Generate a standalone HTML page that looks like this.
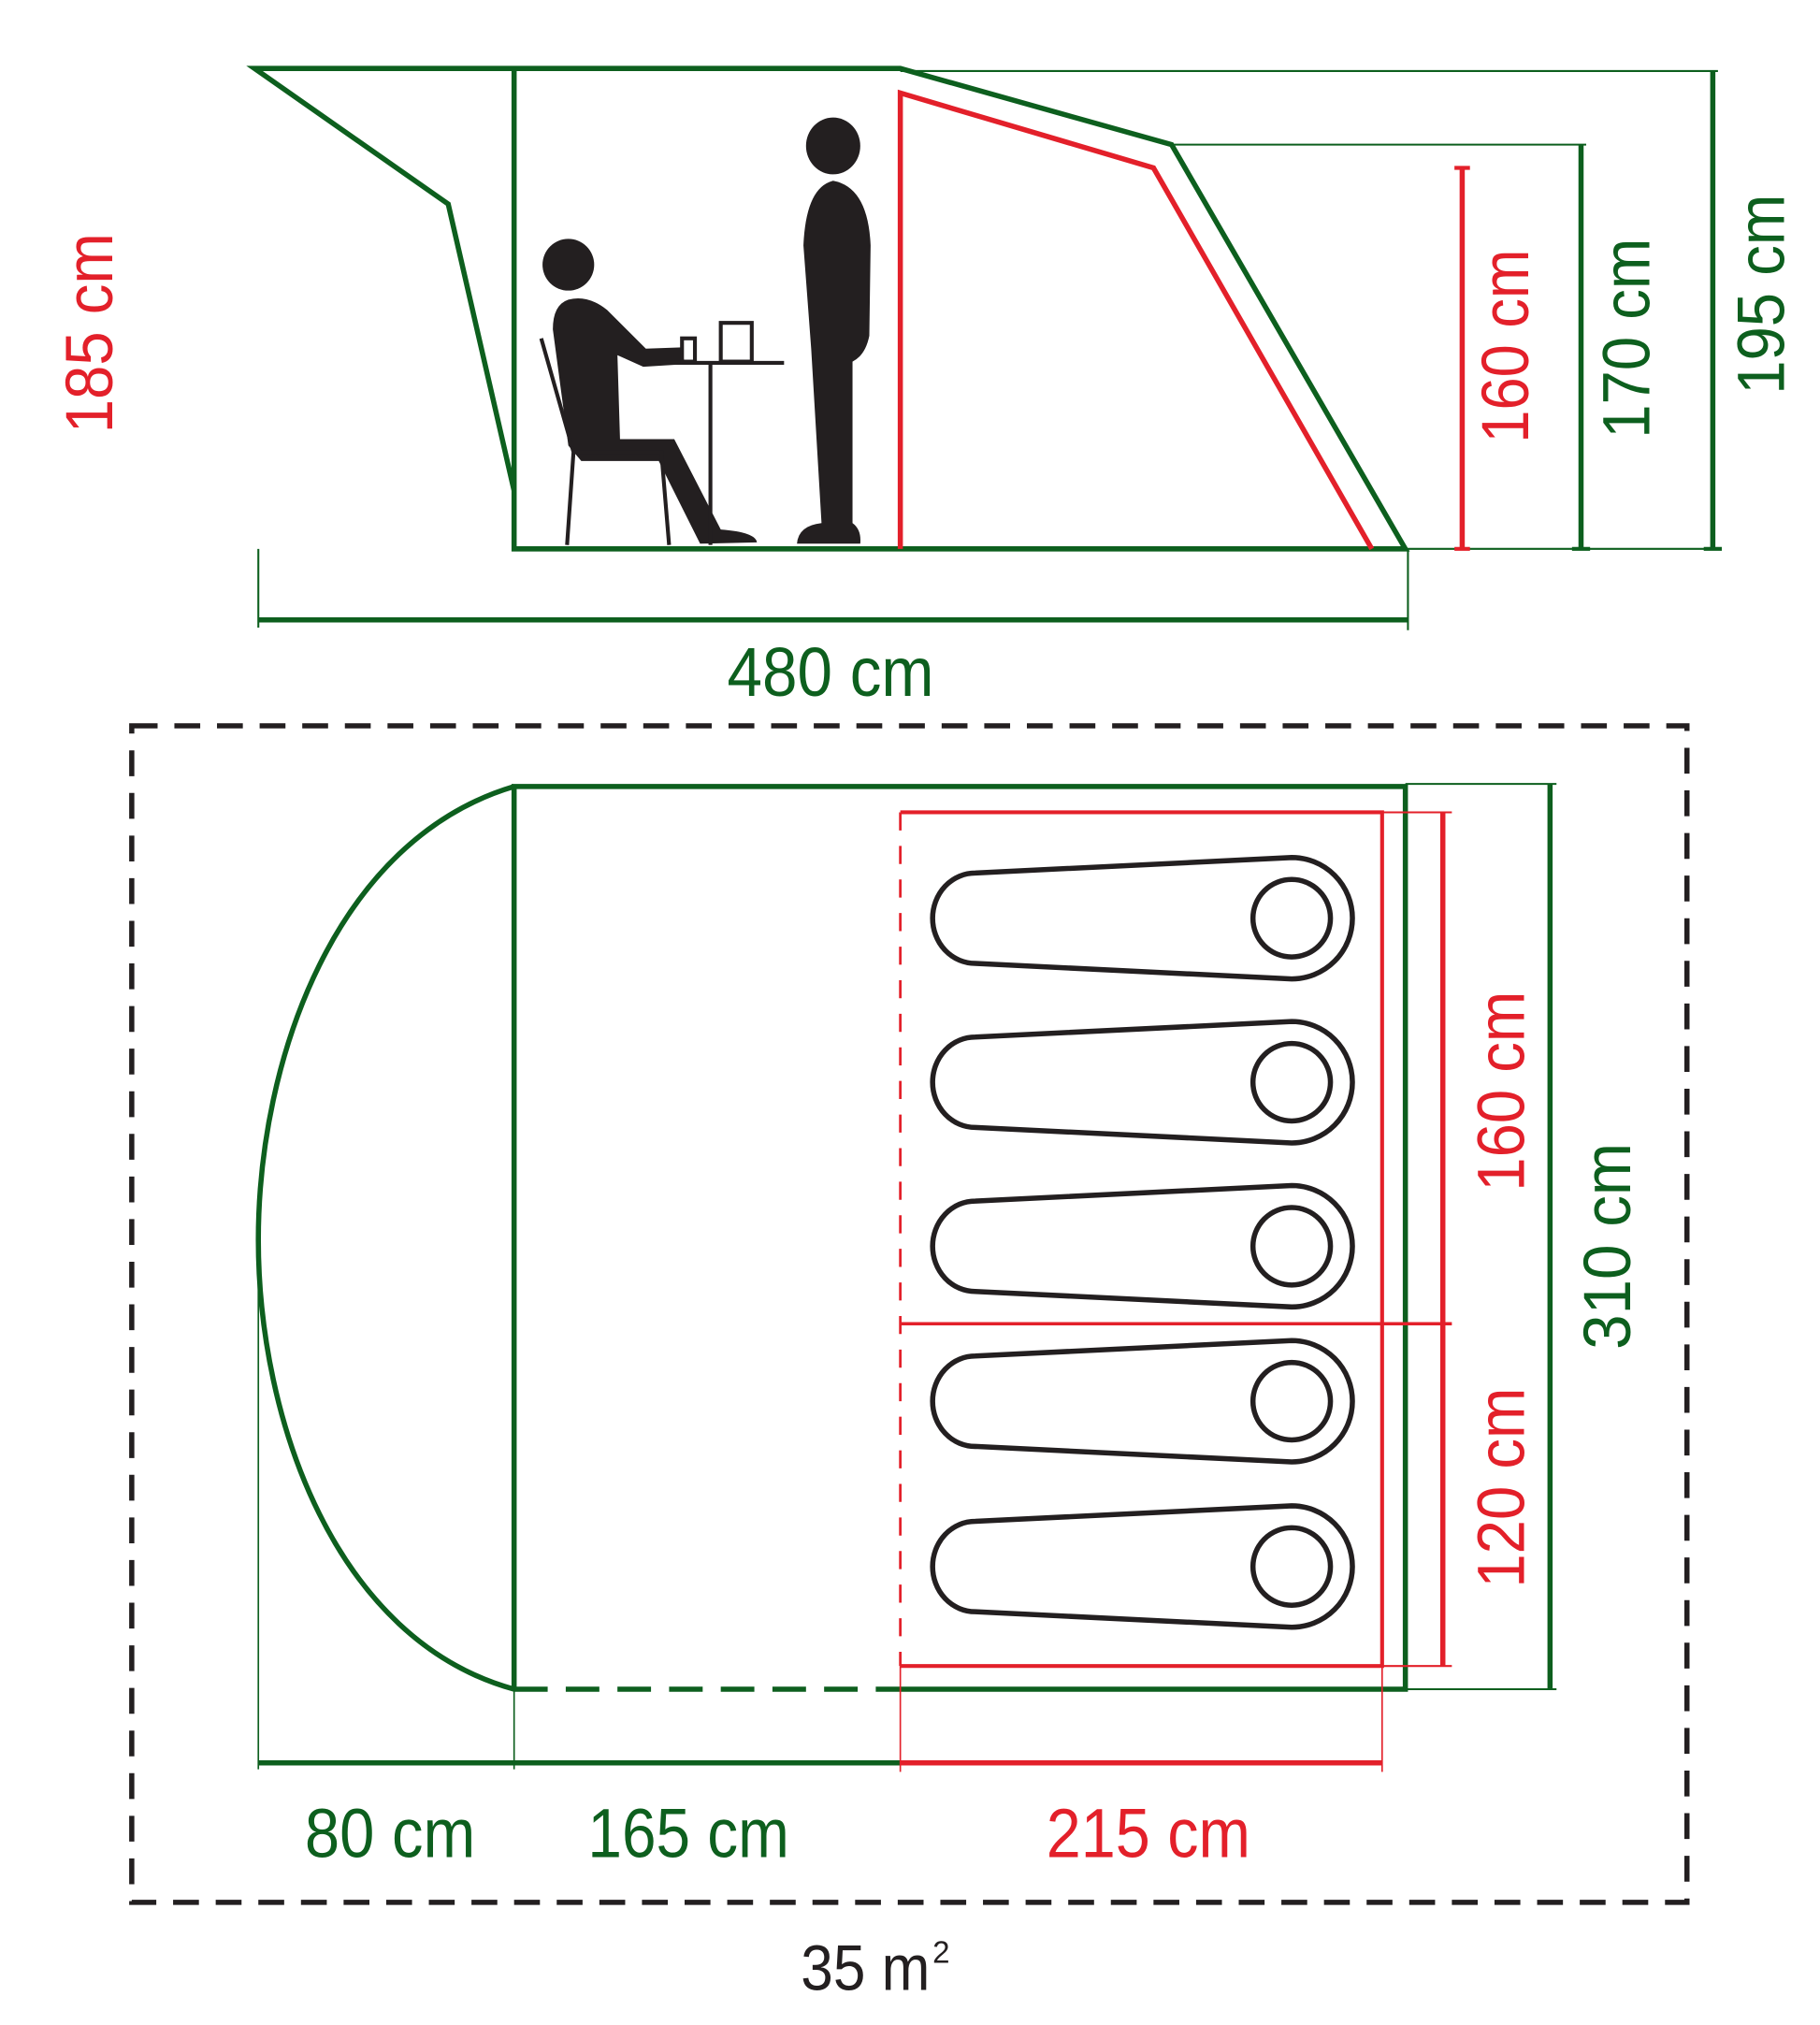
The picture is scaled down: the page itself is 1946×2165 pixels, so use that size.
<!DOCTYPE html>
<html><head><meta charset="utf-8"><style>
html,body{margin:0;padding:0;background:#fff;}
svg{display:block;}
text{font-family:"Liberation Sans",sans-serif;}
</style></head><body>
<svg width="1946" height="2165" viewBox="0 0 1409 1568" preserveAspectRatio="none" xmlns="http://www.w3.org/2000/svg">
<rect width="1409" height="1568" fill="#fff"/>
<g fill="none" stroke-linejoin="miter">
<polyline points="398,380 347,158 197,53 697,53 907,112 1088,425 398,425 398,53" stroke="#0d5f1e" stroke-width="4"/>
<polyline points="697,425 697,72 893,130 1062,425" stroke="#e3202a" stroke-width="4"/>
<line x1="697" y1="55" x2="1330" y2="55" stroke="#0d5f1e" stroke-width="1.5"/>
<line x1="1326" y1="55" x2="1326" y2="425" stroke="#0d5f1e" stroke-width="4"/>
<line x1="907" y1="112" x2="1228" y2="112" stroke="#0d5f1e" stroke-width="1.5"/>
<line x1="1224" y1="112" x2="1224" y2="425" stroke="#0d5f1e" stroke-width="4"/>
<line x1="1088" y1="425" x2="1330" y2="425" stroke="#0d5f1e" stroke-width="1.5"/>
<line x1="1132" y1="130" x2="1132" y2="425" stroke="#e3202a" stroke-width="4"/>
<line x1="1126" y1="130" x2="1138" y2="130" stroke="#e3202a" stroke-width="3"/>
<line x1="1126" y1="425" x2="1138" y2="425" stroke="#e3202a" stroke-width="3"/>
<line x1="1319" y1="425" x2="1333" y2="425" stroke="#0d5f1e" stroke-width="3"/>
<line x1="1217" y1="425" x2="1231" y2="425" stroke="#0d5f1e" stroke-width="3"/>
<line x1="200" y1="480" x2="1090" y2="480" stroke="#0d5f1e" stroke-width="4"/>
<line x1="200" y1="425" x2="200" y2="486" stroke="#0d5f1e" stroke-width="1.5"/>
<line x1="1090" y1="425" x2="1090" y2="488" stroke="#0d5f1e" stroke-width="1.5"/>
</g>
<g fill="#231f20" stroke="#231f20">
<circle cx="440" cy="205" r="20" stroke="none"/>
<path d="M440,232 Q455,228 470,240 L500,270 L528,269 L530,282 L498,284 L478,275 L480,340 L522,340 L558,410 Q585,412 586,420 L542,421 L510,357 L450,357 L440,345 L428,255 Q428,236 440,232 Z" stroke="none"/>
<ellipse cx="645" cy="113" rx="21" ry="22" stroke="none"/>
<path d="M645,140 Q672,145 674,190 L673,260 Q670,275 660,280 L660,405 Q667,410 666,421 L617,421 Q618,407 636,405 L628,270 L622,190 Q624,145 645,140 Z" stroke="none"/>
<g fill="none" stroke-width="3">
<polyline points="419,262 444,350 439,422"/>
<polyline points="444,350 512,350 518,422"/>
<line x1="500" y1="281" x2="607" y2="281"/>
<line x1="550" y1="281" x2="550" y2="422"/>
<rect x="528" y="262" width="10" height="18"/>
<rect x="558" y="250" width="24" height="30"/>
</g>
</g>
<g fill="none">
<rect x="102" y="562" width="1204" height="911" stroke="#231f20" stroke-width="4" stroke-dasharray="20,13"/>
<path d="M398,609 C260,650 200,820 200,960 C200,1100 260,1270 398,1308" stroke="#0d5f1e" stroke-width="4"/>
<polyline points="398,1308 398,609 1088,609 1088,1308 697,1308" stroke="#0d5f1e" stroke-width="4"/>
<line x1="398" y1="1308" x2="697" y2="1308" stroke="#0d5f1e" stroke-width="4" stroke-dasharray="26,14"/>
<polyline points="697,629 1070,629 1070,1290 697,1290" stroke="#e3202a" stroke-width="3"/>
<line x1="697" y1="629" x2="697" y2="1290" stroke="#e3202a" stroke-width="2" stroke-dasharray="14,12"/>
<line x1="697" y1="1025" x2="1124" y2="1025" stroke="#e3202a" stroke-width="2.5"/>
<line x1="1070" y1="629" x2="1124" y2="629" stroke="#e3202a" stroke-width="1.5"/>
<line x1="1070" y1="1290" x2="1124" y2="1290" stroke="#e3202a" stroke-width="1.5"/>
<line x1="1117" y1="629" x2="1117" y2="1290" stroke="#e3202a" stroke-width="4"/>
<line x1="1088" y1="607" x2="1205" y2="607" stroke="#0d5f1e" stroke-width="1.5"/>
<line x1="1088" y1="1308" x2="1205" y2="1308" stroke="#0d5f1e" stroke-width="1.5"/>
<line x1="1200" y1="607" x2="1200" y2="1308" stroke="#0d5f1e" stroke-width="4"/>
<line x1="200" y1="1365" x2="697" y2="1365" stroke="#0d5f1e" stroke-width="4"/>
<line x1="697" y1="1365" x2="1070" y2="1365" stroke="#e3202a" stroke-width="4"/>
<line x1="200" y1="960" x2="200" y2="1370" stroke="#0d5f1e" stroke-width="1.2"/>
<line x1="398" y1="1308" x2="398" y2="1370" stroke="#0d5f1e" stroke-width="1.2"/>
<line x1="697" y1="1290" x2="697" y2="1372" stroke="#e3202a" stroke-width="1.2"/>
<line x1="1070" y1="1290" x2="1070" y2="1372" stroke="#e3202a" stroke-width="1.2"/>
<g stroke="#231f20" stroke-width="4">
<g id="bag"><path d="M755,676 L1000,664 A47,47 0 0 1 1000,758 L755,746 A33,35 0 0 1 755,676 Z"/><circle cx="1000" cy="711" r="30"/></g>
<use href="#bag" y="127"/>
<use href="#bag" y="254"/>
<use href="#bag" y="374"/>
<use href="#bag" y="502"/>
</g>
</g>
<g font-size="54">
<text x="643" y="539" text-anchor="middle" fill="#0d5f1e" textLength="160" lengthAdjust="spacingAndGlyphs">480 cm</text>
<text x="302" y="1438" text-anchor="middle" fill="#0d5f1e" textLength="132" lengthAdjust="spacingAndGlyphs">80 cm</text>
<text x="533" y="1438" text-anchor="middle" fill="#0d5f1e" textLength="156" lengthAdjust="spacingAndGlyphs">165 cm</text>
<text x="889" y="1438" text-anchor="middle" fill="#e3202a" textLength="158" lengthAdjust="spacingAndGlyphs">215 cm</text>
<text x="620" y="1541" fill="#231f20" font-size="50" textLength="100" lengthAdjust="spacingAndGlyphs">35 m</text>
<text x="722" y="1520" fill="#231f20" font-size="24">2</text>
</g>
<g font-size="52">
<text transform="translate(87,258) rotate(-90)" text-anchor="middle" fill="#e3202a" textLength="155" lengthAdjust="spacingAndGlyphs">185 cm</text>
<text transform="translate(1183,268) rotate(-90)" text-anchor="middle" fill="#e3202a" textLength="150" lengthAdjust="spacingAndGlyphs">160 cm</text>
<text transform="translate(1277,262) rotate(-90)" text-anchor="middle" fill="#0d5f1e" textLength="155" lengthAdjust="spacingAndGlyphs">170 cm</text>
<text transform="translate(1381,228) rotate(-90)" text-anchor="middle" fill="#0d5f1e" textLength="155" lengthAdjust="spacingAndGlyphs">195 cm</text>
<text transform="translate(1180,845) rotate(-90)" text-anchor="middle" fill="#e3202a" textLength="155" lengthAdjust="spacingAndGlyphs">160 cm</text>
<text transform="translate(1180,1152) rotate(-90)" text-anchor="middle" fill="#e3202a" textLength="155" lengthAdjust="spacingAndGlyphs">120 cm</text>
<text transform="translate(1262,965) rotate(-90)" text-anchor="middle" fill="#0d5f1e" textLength="160" lengthAdjust="spacingAndGlyphs">310 cm</text>
</g>
</svg>
</body></html>
